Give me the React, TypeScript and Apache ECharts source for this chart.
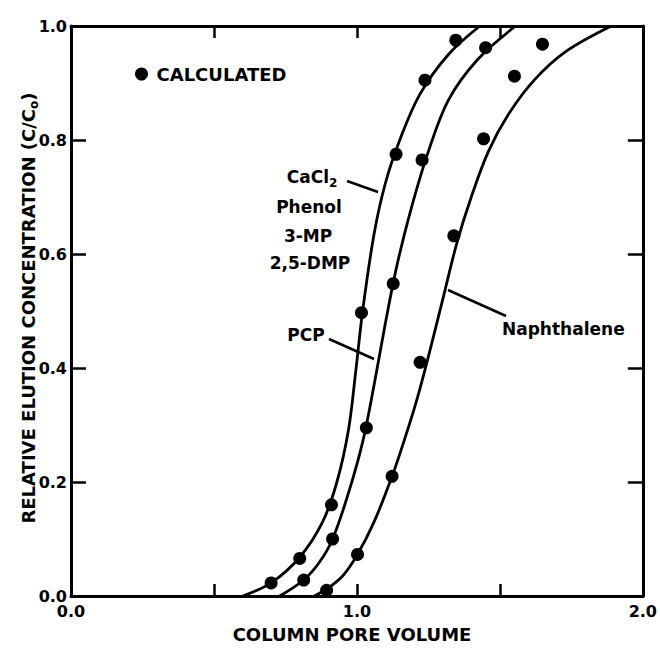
import React, { useEffect, useRef } from 'react';
import * as echarts from 'echarts';

// ---- data ----
const xLabelValues = [0, 1, 2];
const yLabelValues = [0, 0.2, 0.4, 0.6, 0.8, 1.0];

// fitted curves (CaCl2/Phenol/3-MP/2,5-DMP, PCP, Naphthalene)
const curveCaCl2 = [
  [0.6, 0], [0.7, 0.023], [0.8, 0.068], [0.88, 0.13], [0.93, 0.2], [0.97, 0.29],
  [0.995, 0.39], [1.02, 0.5], [1.06, 0.635], [1.1, 0.725], [1.15, 0.8], [1.22, 0.88],
  [1.32, 0.95], [1.43, 1.0],
];
const curvePCP = [
  [0.73, 0], [0.814, 0.028], [0.87, 0.06], [0.915, 0.1], [0.97, 0.18], [1.02, 0.27],
  [1.06, 0.37], [1.1, 0.48], [1.14, 0.58], [1.19, 0.68], [1.25, 0.78], [1.32, 0.87],
  [1.42, 0.94], [1.555, 1.0],
];
const curveNaph = [
  [0.85, 0], [0.894, 0.012], [0.95, 0.035], [1.002, 0.073], [1.06, 0.13], [1.123, 0.21],
  [1.17, 0.28], [1.21, 0.345], [1.25, 0.42], [1.3, 0.52], [1.35, 0.62], [1.4, 0.7],
  [1.46, 0.78], [1.53, 0.845], [1.62, 0.905], [1.73, 0.955], [1.89, 1.0],
];

// calculated points
const calcCaCl2 = [
  [0.7, 0.023], [0.8, 0.066], [0.911, 0.16], [1.016, 0.497], [1.137, 0.775], [1.238, 0.905], [1.346, 0.975],
];
const calcPCP = [
  [0.814, 0.028], [0.915, 0.1], [1.033, 0.295], [1.127, 0.548], [1.228, 0.765], [1.45, 0.962],
];
const calcNaph = [
  [0.894, 0.01], [1.002, 0.073], [1.123, 0.21], [1.221, 0.41], [1.339, 0.632], [1.443, 0.802],
  [1.551, 0.912], [1.649, 0.968],
];

const FONT = 'DejaVu Sans';
const INK = '#000';

export default function App() {
  const ref = useRef<HTMLDivElement>(null);

  useEffect(() => {
    if (!ref.current) return;
    const chart = echarts.init(ref.current, undefined, { renderer: 'svg' });

    const bold = (size: number) => ({
      fontFamily: FONT,
      fontWeight: 'bold' as const,
      fontSize: size,
      color: INK,
    });

    const axisCommon = {
      type: 'value' as const,
      axisLine: { show: true, onZero: false, lineStyle: { color: INK, width: 3 } },
      splitLine: { show: false },
    };

    const lineSeries = (name: string, data: number[][]) => ({
      name,
      type: 'line' as const,
      data,
      smooth: 0.35,
      showSymbol: false,
      symbol: 'none',
      lineStyle: { color: INK, width: 2.8 },
      silent: true,
      z: 2,
    });

    const txt = (x: number, y: number, text: string, size: number, align = 'center') => ({
      type: 'text',
      x,
      y,
      style: {
        text,
        fill: INK,
        font: `bold ${size}px "${FONT}"`,
        align,
        verticalAlign: 'middle',
      },
      z: 10,
    });

    const leader = (x1: number, y1: number, x2: number, y2: number) => ({
      type: 'line',
      shape: { x1, y1, x2, y2 },
      style: { stroke: INK, lineWidth: 2.5 },
      z: 10,
    });

    const richMain = { fill: INK, fontFamily: FONT, fontWeight: 'bold', fontSize: 17, lineHeight: 24 };
    const richSub = { fill: INK, fontFamily: FONT, fontWeight: 'bold', fontSize: 12, lineHeight: 12, verticalAlign: 'bottom' };

    chart.setOption({
      animation: false,
      backgroundColor: '#fff',
      grid: { left: 71, right: 14, top: 26, bottom: 52, containLabel: false },
      legend: {
        data: ['CALCULATED'],
        left: 135,
        top: 65,
        padding: 0,
        itemWidth: 20,
        itemHeight: 13,
        icon: 'circle',
        selectedMode: false,
        textStyle: bold(18),
      },
      xAxis: [
        {
          ...axisCommon,
          position: 'bottom',
          min: 0,
          max: 2,
          interval: 0.5,
          axisTick: { show: true, inside: true, length: 12, lineStyle: { color: INK, width: 2.5 } },
          axisLabel: {
            ...bold(16),
            margin: 8,
            lineHeight: 14,
            formatter: (v: number) => (xLabelValues.includes(v) ? v.toFixed(1) : ''),
          },
        },
        {
          ...axisCommon,
          position: 'top',
          min: 0,
          max: 2,
          interval: 0.5,
          axisTick: { show: true, inside: true, length: 12, lineStyle: { color: INK, width: 2.5 } },
          axisLabel: { show: false },
        },
      ],
      yAxis: [
        {
          ...axisCommon,
          position: 'left',
          min: 0,
          max: 1,
          interval: 0.2,
          axisTick: { show: true, inside: true, length: 15, lineStyle: { color: INK, width: 2.5 } },
          axisLabel: {
            ...bold(16),
            margin: 4,
            lineHeight: 13,
            formatter: (v: number) =>
              yLabelValues.some((t) => Math.abs(t - v) < 1e-6) ? v.toFixed(1) : '',
          },
        },
        {
          ...axisCommon,
          position: 'right',
          min: 0,
          max: 1,
          interval: 0.2,
          axisTick: { show: true, inside: true, length: 15, lineStyle: { color: INK, width: 2.5 } },
          axisLabel: { show: false },
        },
      ],
      series: [
        lineSeries('CaCl2 / Phenol / 3-MP / 2,5-DMP', curveCaCl2),
        lineSeries('PCP', curvePCP),
        lineSeries('Naphthalene', curveNaph),
        {
          name: 'CALCULATED',
          type: 'scatter',
          data: [...calcCaCl2, ...calcPCP, ...calcNaph],
          symbol: 'circle',
          symbolSize: 13,
          itemStyle: { color: INK, opacity: 1 },
          z: 3,
        },
      ],
      graphic: [
        // y-axis title (rotated)
        {
          type: 'text',
          x: 28,
          y: 308,
          rotation: Math.PI / 2,
          style: {
            text: '{a|RELATIVE ELUTION CONCENTRATION (C/C}{s|o}{a|)}',
            align: 'center',
            verticalAlign: 'middle',
            rich: {
              a: { ...richMain, fontSize: 18 },
              s: richSub,
            },
          },
          z: 10,
        },
        // x-axis title
        txt(352, 634, 'COLUMN PORE VOLUME', 18),
        // curve labels
        {
          type: 'text',
          x: 312,
          y: 177,
          style: {
            text: '{a|CaCl}{s|2}',
            align: 'center',
            verticalAlign: 'middle',
            rich: { a: richMain, s: richSub },
          },
          z: 10,
        },
        txt(309, 207, 'Phenol', 17),
        txt(308, 236, '3-MP', 17),
        txt(310, 263, '2,5-DMP', 17),
        txt(306, 335, 'PCP', 17),
        txt(502, 329, 'Naphthalene', 17, 'left'),
        leader(347, 181, 378, 192),
        leader(329, 339, 374, 359),
        leader(448, 290, 506, 316),
      ],
    });

    return () => chart.dispose();
  }, []);

  return (
    <div
      ref={ref}
      style={{ position: 'absolute', left: 0, top: 0, width: 660, height: 648, background: '#fff' }}
    />
  );
}
